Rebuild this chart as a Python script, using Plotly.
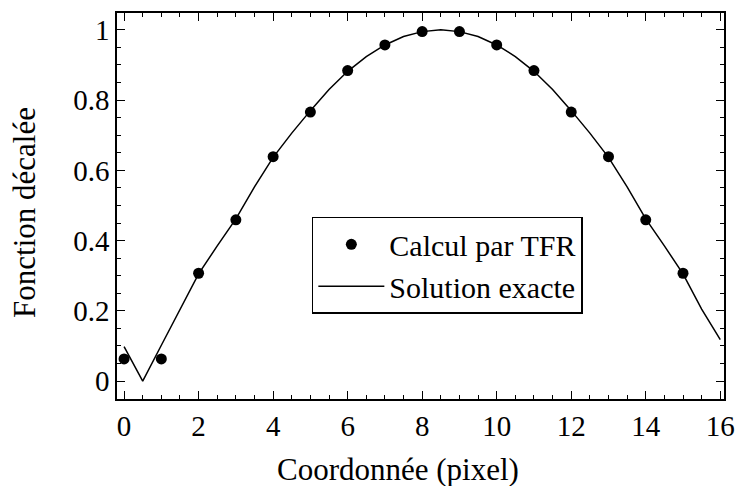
import plotly.graph_objects as go

# FFT-computed samples (dots)
pixel = list(range(16))
tfr = [0.063, 0.063, 0.307, 0.459, 0.639, 0.766, 0.884, 0.957,
       0.995, 0.995, 0.957, 0.884, 0.766, 0.639, 0.459, 0.307]

# exact solution (line), read every half pixel
x_exact = [i * 0.5 for i in range(33)]
y_exact = [0.098, 0.0, 0.102, 0.205, 0.305, 0.385, 0.462, 0.553,
           0.637, 0.706, 0.770, 0.830, 0.882, 0.924, 0.957, 0.981,
           0.995, 1.0, 0.995, 0.981, 0.957, 0.924, 0.882, 0.830,
           0.770, 0.706, 0.637, 0.553, 0.462, 0.385, 0.305, 0.205, 0.118]

x_title = "Coordonnée (pixel)"
y_title = "Fonction décalée"

FONT = "Times New Roman, Liberation Serif, DejaVu Serif, serif"

fig = go.Figure()
fig.add_trace(go.Scatter(x=pixel, y=tfr, mode="markers", name="Calcul par TFR",
                         marker=dict(color="black", size=11)))
fig.add_trace(go.Scatter(x=x_exact, y=y_exact, mode="lines", name="Solution exacte",
                         line=dict(color="black", width=1.5)))

axis_style = dict(showline=True, linecolor="black", linewidth=1.5, mirror="allticks",
                  ticks="inside", ticklen=8, tickwidth=1.2, tickcolor="black",
                  showgrid=False, zeroline=False, automargin=False,
                  tickfont=dict(size=29, family=FONT, color="black"))

fig.update_xaxes(range=[-0.19, 16.1], dtick=2, tick0=0,
                 minor=dict(dtick=0.5, ticks="inside", ticklen=4, tickcolor="black"),
                 **axis_style)
fig.update_yaxes(range=[-0.051, 1.048], dtick=0.2, tick0=0,
                 minor=dict(dtick=0.05, ticks="inside", ticklen=4, tickcolor="black"),
                 **axis_style)

# axis titles placed as annotations (the x title sits left of the plot centre)
fig.add_annotation(text=x_title, xref="paper", yref="paper", x=0.463, y=-0.183,
                   showarrow=False, xanchor="center", yanchor="middle",
                   font=dict(size=31, family=FONT, color="black"))
fig.add_annotation(text=y_title, xref="paper", yref="paper", x=-0.1516, y=0.4845,
                   showarrow=False, xanchor="center", yanchor="middle", textangle=-90,
                   font=dict(size=31, family=FONT, color="black"))

fig.update_layout(
    width=739, height=486,
    margin=dict(l=117, r=15, t=13, b=87, autoexpand=False),
    plot_bgcolor="white", paper_bgcolor="white",
    font=dict(family=FONT, color="black", size=30),
    legend=dict(x=0.321, y=0.472, xanchor="left", yanchor="top",
                bordercolor="black", borderwidth=1.5, bgcolor="white",
                itemwidth=66, tracegroupgap=0,
                font=dict(size=30, family=FONT, color="black")),
)

fig.write_html("out.html", config={"displayModeBar": False},
               post_script="document.body.style.margin='0';")
